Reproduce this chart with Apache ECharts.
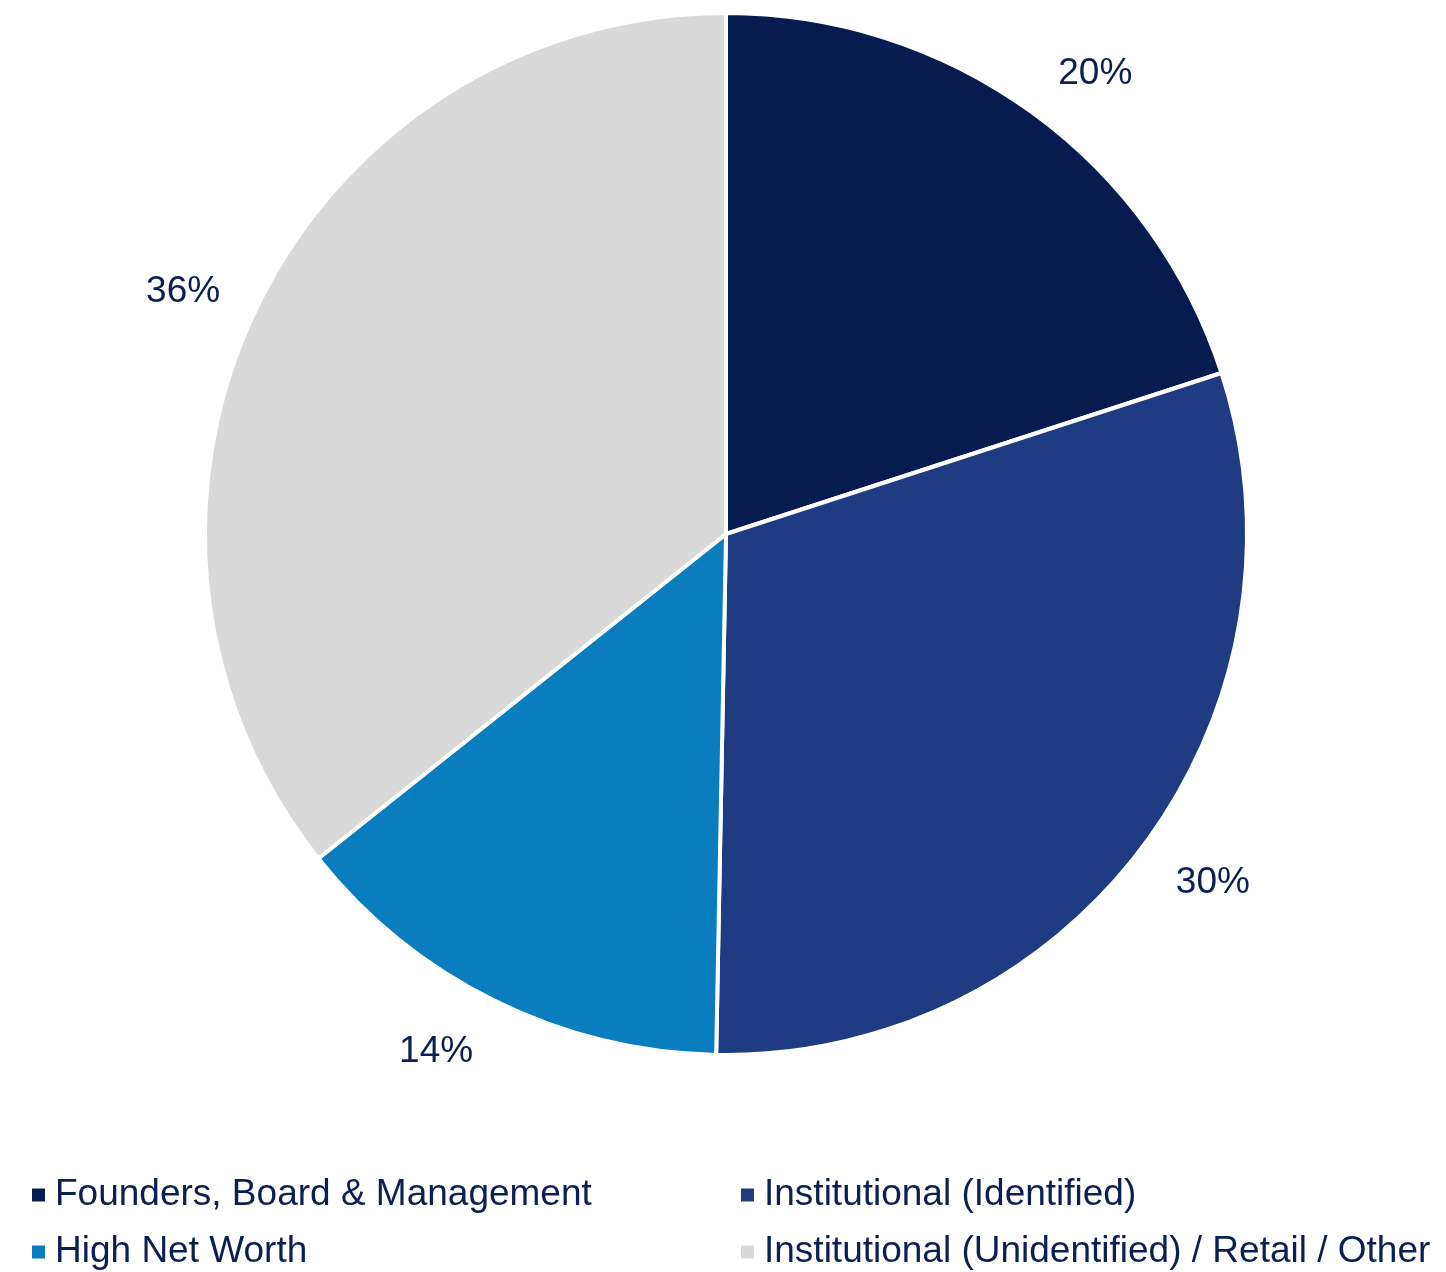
<!DOCTYPE html>
<html>
<head>
<meta charset="utf-8">
<script src="https://cdn.jsdelivr.net/npm/echarts@6/dist/echarts.min.js"></script>
<style>
html,body{margin:0;padding:0;background:#fff;}
#chart{width:1446px;height:1272px;}
</style>
</head>
<body>
<div id="chart"></div>
<script>
var categories = ['Founders, Board & Management', 'Institutional (Identified)', 'High Net Worth', 'Institutional (Unidentified) / Retail / Other'];
var values = [20.0, 30.3, 14.0, 35.7];
var colors = ['#061B4F', '#1F3B82', '#0A7DBE', '#D9D9D9'];
var textColor = '#0B1F52';
// fine placement of the outside labels (Excel "outside end" style)
var labelOffsets = [[19, 22], [8, -6], [-26, -17], [-6, 17]];

var data = categories.map(function (c, i) {
  return { name: c, value: values[i], itemStyle: { color: colors[i] } };
});
var labelData = categories.map(function (c, i) {
  return { name: c, value: values[i], label: { offset: labelOffsets[i] } };
});

var chart = echarts.init(document.getElementById('chart'), null, { renderer: 'canvas' });
var legendText = { color: textColor, fontSize: 37, fontFamily: 'Liberation Sans, Arial, sans-serif', lineHeight: 40, padding: [0, 0, 0, 4] };
chart.setOption({
  animation: false,
  legend: [
    { data: [categories[0], categories[2]], orient: 'vertical', left: 30, top: 1175, padding: 0, itemGap: 17,
      itemWidth: 15, itemHeight: 15, icon: 'rect', textStyle: legendText, selectedMode: false },
    { data: [categories[1], categories[3]], orient: 'vertical', left: 739, top: 1175, padding: 0, itemGap: 17,
      itemWidth: 15, itemHeight: 15, icon: 'rect', textStyle: legendText, selectedMode: false }
  ],
  series: [
    {
      type: 'pie',
      center: [726, 534],
      radius: [0, 521],
      startAngle: 90,
      clockwise: true,
      silent: true,
      label: { show: false },
      labelLine: { show: false },
      itemStyle: { borderColor: '#ffffff', borderWidth: 4 },
      data: data
    },
    {
      type: 'pie',
      center: [726, 534],
      radius: [575, 611],
      startAngle: 90,
      clockwise: true,
      silent: true,
      itemStyle: { color: 'rgba(0,0,0,0)' },
      label: {
        show: true,
        position: 'inside',
        color: textColor,
        fontSize: 37,
        fontFamily: 'Liberation Sans, Arial, sans-serif',
        formatter: function (p) { return Math.round(p.value) + '%'; }
      },
      labelLine: { show: false },
      data: labelData
    }
  ]
});
</script>
</body>
</html>
